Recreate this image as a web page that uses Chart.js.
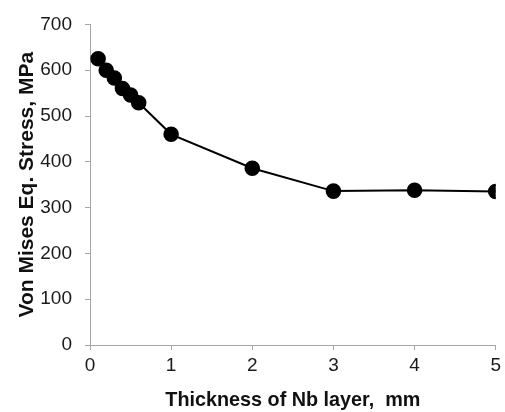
<!DOCTYPE html>
<html>
<head>
<meta charset="utf-8">
<script src="https://cdn.jsdelivr.net/npm/chart.js@4/dist/chart.umd.min.js"></script>
<style>
html,body{margin:0;padding:0;background:#fff;}
#wrap{width:505px;height:412px;position:relative;}
</style>
</head>
<body>
<div id="wrap"><canvas id="c" width="505" height="412"></canvas></div>
<script>
const thickness = [0.1, 0.2, 0.3, 0.4, 0.5, 0.6, 1, 2, 3, 4, 5];
const stress = [625, 600, 583, 560, 546, 529, 460, 386, 336, 338, 335];
const xTitle = 'Thickness of Nb layer,  mm';
const yTitle = 'Von Mises Eq. Stress, MPa';

const points = thickness.map((x, i) => ({x: x, y: stress[i]}));
const tickFont = {family: 'Liberation Sans', size: 19};

new Chart(document.getElementById('c'), {
  type: 'scatter',
  data: {
    datasets: [{
      data: points,
      showLine: true,
      borderColor: '#000',
      borderWidth: 2,
      backgroundColor: '#000',
      pointRadius: 6.8,
      pointHoverRadius: 6.8,
      pointBackgroundColor: '#000',
      pointBorderColor: '#000'
    }]
  },
  options: {
    responsive: false,
    animation: false,
    devicePixelRatio: 1,
    layout: {padding: {top: 20, right: 8, bottom: 0, left: 0}},
    plugins: {legend: {display: false}, tooltip: {enabled: false}},
    scales: {
      x: {
        type: 'linear', min: 0, max: 5,
        afterFit: (s) => { s.height = 67; },
        ticks: {stepSize: 1, color: '#1a1a1a', font: tickFont, padding: 4},
        grid: {drawOnChartArea: false, drawTicks: true, tickLength: 5, color: '#a6a6a6', lineWidth: 1},
        border: {color: '#a6a6a6', width: 1},
        title: {display: true, text: xTitle, color: '#111', font: {family: 'Liberation Sans', size: 19.8, weight: 'bold'}, padding: {top: 4, bottom: 0}}
      },
      y: {
        min: 0, max: 700,
        afterFit: (s) => { s.width = 90; },
        ticks: {stepSize: 100, color: '#1a1a1a', font: tickFont, padding: 13},
        grid: {drawOnChartArea: false, drawTicks: true, tickLength: 5, color: '#a6a6a6', lineWidth: 1},
        border: {color: '#a6a6a6', width: 1},
        title: {display: true, text: yTitle, color: '#111', font: {family: 'Liberation Sans', size: 21, weight: 'bold'}, padding: {top: 15, bottom: 4}}
      }
    }
  }
});
</script>
</body>
</html>
